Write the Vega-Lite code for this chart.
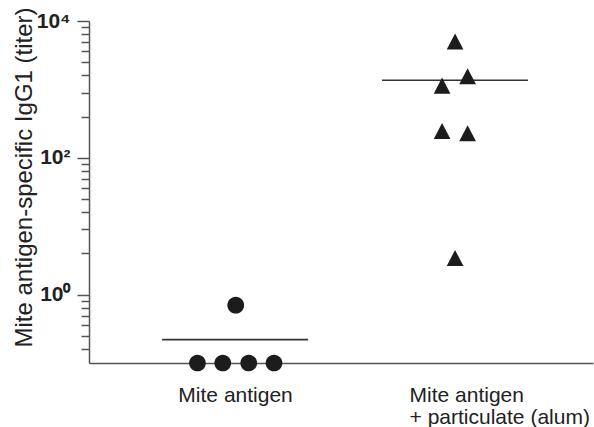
{
  "$schema": "https://vega.github.io/schema/vega-lite/v6.json",
  "width": 504,
  "height": 342,
  "autosize": {"type": "none"},
  "padding": {"left": 89, "top": 21, "right": 1, "bottom": 64},
  "background": "white",
  "config": {"view": {"stroke": null}, "font": "Liberation Sans"},
  "datasets": {
    "points": [
      {"group": "Mite antigen", "pos": 0.829, "titer": 0.1},
      {"group": "Mite antigen", "pos": 0.944, "titer": 0.1},
      {"group": "Mite antigen", "pos": 1.062, "titer": 0.1},
      {"group": "Mite antigen", "pos": 1.177, "titer": 0.1},
      {"group": "Mite antigen", "pos": 1.003, "titer": 0.7},
      {"group": "Mite antigen + particulate (alum)", "pos": 2.0, "titer": 5000},
      {"group": "Mite antigen + particulate (alum)", "pos": 2.057, "titer": 1554},
      {"group": "Mite antigen + particulate (alum)", "pos": 1.941, "titer": 1136},
      {"group": "Mite antigen + particulate (alum)", "pos": 1.941, "titer": 246},
      {"group": "Mite antigen + particulate (alum)", "pos": 2.057, "titer": 228},
      {"group": "Mite antigen + particulate (alum)", "pos": 2.0, "titer": 3.43}
    ],
    "means": [
      {"group": "Mite antigen", "pos": 1, "mean": 0.22},
      {"group": "Mite antigen + particulate (alum)", "pos": 2, "mean": 1358}
    ]
  },
  "encoding": {
    "x": {
      "field": "pos",
      "type": "quantitative",
      "scale": {"domain": [0.336, 2.627], "nice": false, "zero": false},
      "axis": {
        "values": [1, 2],
        "labelExpr": "datum.value == 1 ? 'Mite antigen' : ['Mite antigen', '+ particulate (alum)']",
        "ticks": false,
        "tickSize": 0,
        "grid": false,
        "title": null,
        "labelFont": "Liberation Sans",
        "labelFontSize": 21,
        "labelColor": "#222222",
        "labelPadding": 21,
        "labelLineHeight": 22,
        "labelLimit": 400,
        "labelAlign": {"condition": {"test": "datum.value == 2", "value": "left"}, "value": "center"},
        "labelOffset": {"condition": {"test": "datum.value == 2", "value": -46}, "value": 0},
        "labelFlush": false,
        "labelOverlap": false,
        "labelBound": false,
        "domainColor": "#555555",
        "domainWidth": 1.5
      }
    },
    "y": {
      "type": "quantitative",
      "scale": {"type": "log", "domain": [0.1, 10000], "nice": false},
      "axis": {
        "values": [0.16, 0.25, 0.36, 0.49, 0.64, 0.81, 1, 4, 9, 16, 25, 36, 49, 64, 81, 100, 400, 900, 1600, 2500, 3600, 4900, 6400, 8100, 10000],
        "labelExpr": "datum.value == 1 ? '10⁰' : datum.value == 100 ? '10²' : datum.value == 10000 ? '10⁴' : ''",
        "tickSize": {"condition": {"test": "datum.value == 1 || datum.value == 100 || datum.value == 10000", "value": 12}, "value": 8},
        "tickWidth": 1.5,
        "tickColor": "#555555",
        "domainColor": "#555555",
        "domainWidth": 1.5,
        "grid": false,
        "labelFont": "Liberation Sans",
        "labelFontSize": 21,
        "labelFontWeight": "bold",
        "labelColor": "#222222",
        "labelPadding": 7,
        "labelOverlap": false,
        "labelBound": false,
        "labelFlush": false,
        "title": "Mite antigen-specific IgG1 (titer)",
        "titleFont": "Liberation Sans",
        "titleFontSize": 24,
        "titleFontWeight": "normal",
        "titleColor": "#222222",
        "titleAngle": -90,
        "titleAlign": "center",
        "titleBaseline": "alphabetic",
        "titleX": -58,
        "titleY": 156
      }
    }
  },
  "layer": [
    {
      "data": {"name": "means"},
      "mark": {"type": "tick", "orient": "horizontal", "size": 146, "thickness": 1.6, "color": "#333333", "opacity": 1},
      "encoding": {
        "y": {"field": "mean", "type": "quantitative"}
      }
    },
    {
      "data": {"name": "points"},
      "mark": {"type": "point", "filled": true, "opacity": 1, "size": 279, "color": "#1c1c1c", "strokeWidth": 0},
      "encoding": {
        "y": {"field": "titer", "type": "quantitative"},
        "shape": {
          "field": "group",
          "type": "nominal",
          "scale": {
            "domain": ["Mite antigen", "Mite antigen + particulate (alum)"],
            "range": ["M1,0A1,1 0 1,1 -1,0A1,1 0 1,1 1,0Z", "M0,-0.96L1,0.96L-1,0.96Z"]
          },
          "legend": null
        }
      }
    }
  ]
}
